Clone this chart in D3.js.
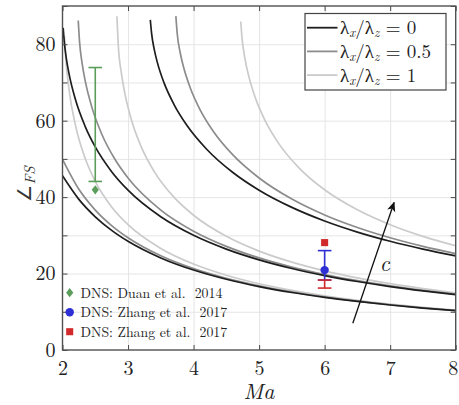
<!DOCTYPE html>
<html><head><meta charset="utf-8">
<script src="https://cdn.jsdelivr.net/npm/d3@7"></script>
<style>
html,body{margin:0;padding:0;background:#fff;}
svg{display:block;}
svg text{font-family:'Latin Modern Roman','Liberation Serif',serif !important;}
</style></head><body>
<svg id="chart" width="459" height="405"></svg>
<script>
// ---------- data ----------
const xTicks = [2, 3, 4, 5, 6, 7, 8];
const yTicks = [0, 10, 20, 30, 40, 50, 60, 70, 80, 90];
const yLabelTicks = [0, 20, 40, 60, 80];
const ratioLabels = ["0", "0.5", "1"];

// lowest group (smallest c)
const maLow_r0  = [2, 2.25, 2.5, 2.75, 3, 3.5, 4, 4.5, 5, 5.5, 6, 6.5, 7, 7.5, 8];
const angLow_r0 = [45.58, 39.41, 34.85, 31.30, 28.44, 24.09, 20.92, 18.51, 16.60, 15.05, 13.78, 12.70, 11.78, 10.98, 10.29];
const maLow_r05  = [2, 2.25, 2.5, 2.75, 3, 3.5, 4, 4.5, 5, 5.5, 6, 6.5, 7, 7.5, 8];
const angLow_r05 = [49.88, 42.04, 36.61, 32.55, 29.36, 24.64, 21.28, 18.75, 16.78, 15.19, 13.88, 12.77, 11.84, 11.03, 10.33];
const maLow_r1  = [2.03, 2.05, 2.1, 2.2, 2.35, 2.5, 2.75, 3, 3.5, 4, 4.5, 5, 5.5, 6, 6.5, 7, 7.5, 8];
const angLow_r1 = [82.1, 76.3, 68.14, 58.63, 49.96, 44.13, 37.44, 32.79, 26.56, 22.48, 19.56, 17.34, 15.61, 14.19, 13.02, 12.03, 11.19, 10.46];

// middle group
const maMid_r0  = [2.01, 2.03, 2.06, 2.1, 2.2, 2.35, 2.5, 2.75, 3, 3.5, 4, 4.5, 5, 5.5, 6, 6.5, 7, 7.5, 8];
const angMid_r0 = [84.28, 80.14, 76.13, 72.25, 65.38, 58.33, 53.13, 46.66, 41.81, 34.85, 30.0, 26.39, 23.58, 21.32, 19.47, 17.92, 16.60, 15.47, 14.48];
const maMid_r05  = [2.24, 2.26, 2.3, 2.35, 2.45, 2.6, 2.8, 3, 3.5, 4, 4.5, 5, 5.5, 6, 6.5, 7, 7.5, 8];
const angMid_r05 = [86.21, 80.69, 74.93, 70.13, 63.41, 56.44, 49.89, 45.0, 36.61, 31.09, 27.12, 24.09, 21.70, 19.76, 18.14, 16.78, 15.61, 14.60];
const maMid_r1  = [2.83, 2.85, 2.9, 2.95, 3.05, 3.2, 3.4, 3.7, 4, 4.5, 5, 5.5, 6, 6.5, 7, 7.5, 8];
const angMid_r1 = [87.30, 80.08, 72.25, 67.27, 60.29, 53.20, 46.67, 39.98, 35.26, 29.74, 25.87, 22.98, 20.70, 18.87, 17.35, 16.07, 14.96];

// highest group (largest c)
const maHigh_r0  = [3.34, 3.36, 3.4, 3.45, 3.55, 3.7, 3.9, 4.2, 4.6, 5, 5.5, 6, 6.5, 7, 7.5, 8];
const angHigh_r0 = [86.38, 82.77, 78.63, 75.06, 69.88, 64.28, 58.73, 52.53, 46.44, 41.81, 37.31, 33.75, 30.85, 28.44, 26.39, 24.62];
const maHigh_r05  = [3.73, 3.75, 3.8, 3.85, 3.95, 4.1, 4.3, 4.6, 5, 5.5, 6, 6.5, 7, 7.5, 8];
const angHigh_r05 = [87.34, 82.87, 77.45, 73.83, 68.56, 62.85, 57.24, 51.03, 45.0, 39.49, 35.33, 32.05, 29.36, 27.12, 25.22];
const maHigh_r1  = [4.72, 4.74, 4.78, 4.85, 4.95, 5.1, 5.3, 5.6, 6, 6.5, 7, 7.5, 8];
const angHigh_r1 = [85.93, 81.55, 76.64, 71.12, 65.64, 59.73, 53.99, 47.80, 41.92, 36.68, 32.79, 29.74, 27.28];

// DNS data points
const dnsLabels = ["DNS: Duan et al.  2014", "DNS: Zhang et al.  2017", "DNS: Zhang et al.  2017"];
const dnsMa    = [2.5, 6, 6];
const dnsAng   = [41.9, 20.9, 28.1];
const dnsErrLo = [44.1, 18.3, 16.2];
const dnsErrHi = [73.9, 26.0, 18.3];

// arrow annotation (tail -> head) and its label, in data units
const arrowMa  = [6.43, 7.06];
const arrowAng = [7.0, 38.6];
const arrowLabelMa = [6.92];
const arrowLabelAng = [22.0];

// ---------- drawing ----------
const svg = d3.select("#chart");
const x = d3.scaleLinear().domain([2, 8]).range([62.5, 455.7]);
const y = d3.scaleLinear().domain([0, 90]).range([350, 6]);
const W = x(8) - x(2), H = y(0) - y(90);

const cBlack = "#1e1e1e", cGray = "#8c8c8c", cLight = "#cbcbcb";
const lineColors = [cBlack, cGray, cLight];

// grid
const grid = svg.append("g");
grid.append("g").attr("transform", `translate(0,${y(0)})`)
  .call(d3.axisBottom(x).tickValues([3,4,5,6,7]).tickSize(-H).tickFormat(""))
  .call(g => { g.select(".domain").remove(); g.selectAll("line").attr("stroke", "#e2e2e2").attr("stroke-width", 0.9); });
grid.append("g").attr("transform", `translate(${x(2)},0)`)
  .call(d3.axisLeft(y).tickValues([10,20,30,40,50,60,70,80]).tickSize(-W).tickFormat(""))
  .call(g => { g.select(".domain").remove(); g.selectAll("line").attr("stroke", "#e2e2e2").attr("stroke-width", 0.9); });

// clip
svg.append("clipPath").attr("id", "clip").append("rect")
  .attr("x", x(2)).attr("y", y(90)).attr("width", W).attr("height", H);

// curves
const line = d3.line().x(d => x(d[0])).y(d => y(d[1])).curve(d3.curveMonotoneX);
const curves = [
  [maLow_r1, angLow_r1, 2], [maMid_r1, angMid_r1, 2], [maHigh_r1, angHigh_r1, 2],
  [maLow_r05, angLow_r05, 1], [maMid_r05, angMid_r05, 1], [maHigh_r05, angHigh_r05, 1],
  [maLow_r0, angLow_r0, 0], [maMid_r0, angMid_r0, 0], [maHigh_r0, angHigh_r0, 0]
];
const cg = svg.append("g").attr("clip-path", "url(#clip)");
curves.forEach(([ma, ang, k]) => {
  cg.append("path").datum(d3.zip(ma, ang))
    .attr("d", line).attr("fill", "none")
    .attr("stroke", lineColors[k]).attr("stroke-width", 1.7);
});

// axes box + inward ticks
const tickStyle = g => { g.select(".domain").remove(); g.selectAll("line").attr("stroke", "#4a4a4a").attr("stroke-width", 1); };
svg.append("g").attr("transform", `translate(0,${y(0)})`)
  .call(d3.axisBottom(x).tickValues(xTicks).tickSizeInner(-5).tickSizeOuter(0).tickPadding(11).tickFormat(d3.format("d")))
  .call(tickStyle)
  .call(g => g.selectAll("text").attr("font-size", 20).attr("fill", "#222")
    .attr("dx", d => d === 8 ? -3 : 0));
svg.append("g").attr("transform", `translate(0,${y(90)})`)
  .call(d3.axisTop(x).tickValues(xTicks).tickSizeInner(-5).tickSizeOuter(0).tickFormat(""))
  .call(tickStyle);
svg.append("g").attr("transform", `translate(${x(2)},0)`)
  .call(d3.axisLeft(y).tickValues(yTicks).tickSizeInner(-5).tickSizeOuter(0).tickPadding(7)
    .tickFormat(d => yLabelTicks.includes(d) ? d : ""))
  .call(tickStyle)
  .call(g => g.selectAll("text").attr("font-size", 20).attr("fill", "#222"));
svg.append("g").attr("transform", `translate(${x(8)},0)`)
  .call(d3.axisRight(y).tickValues(yTicks).tickSizeInner(-5).tickSizeOuter(0).tickFormat(""))
  .call(tickStyle);
svg.append("rect").attr("x", x(2)).attr("y", y(90)).attr("width", W).attr("height", H)
  .attr("fill", "none").attr("stroke", "#505050").attr("stroke-width", 1.4);

// axis titles
svg.append("text").attr("x", (x(2) + x(8)) / 2).attr("y", 398.5)
  .attr("text-anchor", "middle").attr("font-size", 22).attr("font-style", "italic").attr("fill", "#222")
  .text("Ma");
const yl = svg.append("text").attr("transform", "translate(31,184) rotate(-90)")
  .attr("text-anchor", "middle").attr("fill", "#333");
yl.append("tspan").attr("font-size", 19).text("∠");
yl.append("tspan").attr("font-size", 15).attr("font-style", "italic").attr("dy", 4).text("FS");

// DNS error bars and markers
const dnsColors = ["#5b9e5b", "#2f2fd6", "#d22a2a"];
const capW = 6.8;
const eb = svg.append("g");
[1, 2, 0].forEach(i => {
  const col = dnsColors[i], cx = x(dnsMa[i]);
  eb.append("line").attr("x1", cx).attr("x2", cx).attr("y1", y(dnsErrLo[i])).attr("y2", y(dnsErrHi[i]))
    .attr("stroke", col).attr("stroke-width", 1.6);
  [dnsErrLo[i], dnsErrHi[i]].forEach(v => {
    eb.append("line").attr("x1", cx - capW).attr("x2", cx + capW).attr("y1", y(v)).attr("y2", y(v))
      .attr("stroke", col).attr("stroke-width", 1.6);
  });
});
const diamondPath = "M0,-4.6L3.6,0L0,4.6L-3.6,0Z";
const markerPath = i => i === 0 ? diamondPath
  : d3.symbol().type(i === 1 ? d3.symbolCircle : d3.symbolSquare).size(i === 1 ? 56 : 50)();
dnsMa.forEach((m, i) => {
  svg.append("path").attr("d", markerPath(i))
    .attr("transform", `translate(${x(m)},${y(dnsAng[i])})`)
    .attr("fill", dnsColors[i]);
});

// arrow
svg.append("defs").append("marker").attr("id", "arr").attr("viewBox", "0 0 10 10")
  .attr("refX", 9).attr("refY", 5).attr("markerWidth", 10).attr("markerHeight", 10)
  .attr("markerUnits", "userSpaceOnUse").attr("orient", "auto")
  .append("path").attr("d", "M0,0.8 L10,5 L0,9.2 L2.5,5 Z").attr("fill", "#111");
svg.append("line").attr("x1", x(arrowMa[0])).attr("y1", y(arrowAng[0]))
  .attr("x2", x(arrowMa[1])).attr("y2", y(arrowAng[1]))
  .attr("stroke", "#111").attr("stroke-width", 1.3).attr("marker-end", "url(#arr)");
svg.append("text").attr("x", x(arrowLabelMa[0])).attr("y", y(arrowLabelAng[0]) + 5)
  .attr("text-anchor", "middle").attr("font-size", 22).attr("font-style", "italic").attr("fill", "#222")
  .text("c");

// DNS legend
const dl = svg.append("g");
dnsLabels.forEach((t, i) => {
  const cy = 292.7 + i * 19.5;
  dl.append("path").attr("d", markerPath(i))
    .attr("transform", `translate(69.7,${cy})`)
    .attr("fill", dnsColors[i]);
  dl.append("text").attr("x", 80.5).attr("y", cy + 5).attr("font-size", 13.8)
    .attr("fill", "#222").style("white-space", "pre").text(t);
});

// lambda legend
const lg = svg.append("g");
lg.append("rect").attr("x", 305).attr("y", 13.5).attr("width", 141).attr("height", 76.5)
  .attr("fill", "#fff").attr("stroke", "#444").attr("stroke-width", 1.2);
ratioLabels.forEach((r, i) => {
  const cy = 27.7 + i * 23.7;
  lg.append("line").attr("x1", 307).attr("x2", 337.5).attr("y1", cy).attr("y2", cy)
    .attr("stroke", lineColors[i]).attr("stroke-width", 1.8);
  const t = lg.append("text").attr("x", 340).attr("y", cy + 6.5).attr("font-size", 19).attr("fill", "#222")
    .style("white-space", "pre");
  t.append("tspan").text("λ");
  t.append("tspan").attr("font-size", 13).attr("font-style", "italic").attr("dy", 3).text("x");
  t.append("tspan").attr("dy", -3).text("/λ");
  t.append("tspan").attr("font-size", 13).attr("font-style", "italic").attr("dy", 3).text("z");
  t.append("tspan").attr("dy", -3).text(" = " + r);
});
</script>
</body></html>
